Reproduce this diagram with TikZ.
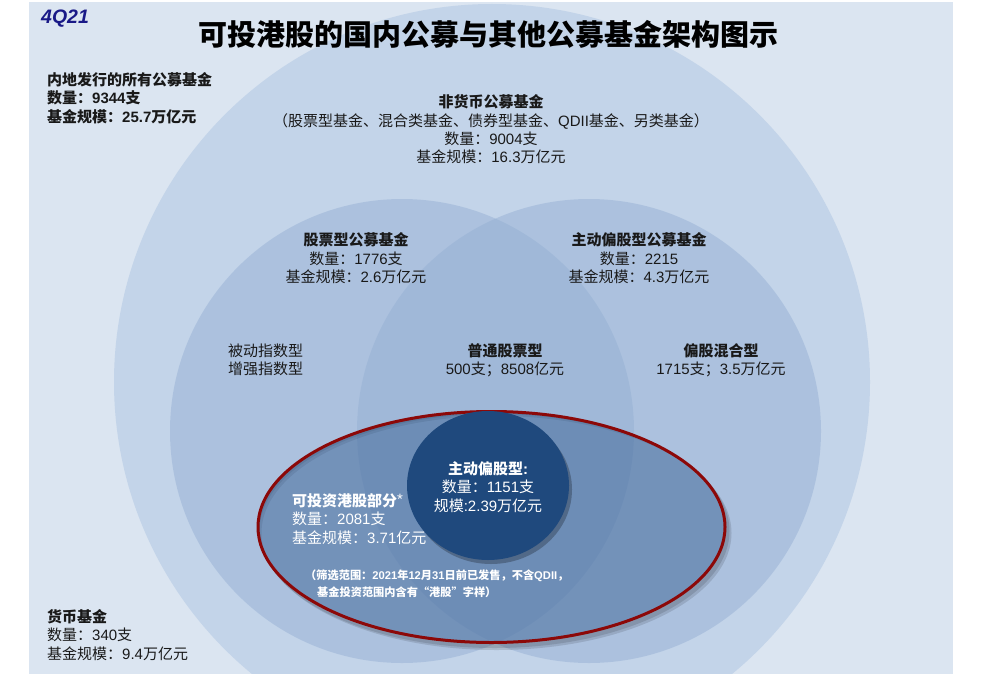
\documentclass[tikz,border=0pt]{standalone}
\usepackage{fontspec}
\setmainfont{Noto Sans CJK SC}
\newfontfamily\lat{Liberation Sans}
\usetikzlibrary{shapes.geometric}
\newcommand{\nm}[1]{{\lat #1}}
\definecolor{bgc}{HTML}{DBE5F1}
\definecolor{cone}{HTML}{C3D4E9}
\definecolor{ctwo}{RGB}{150,176,212}
\definecolor{cell}{RGB}{60,100,150}
\definecolor{cdark}{HTML}{1F497D}
\definecolor{cred}{RGB}{140,8,8}
\definecolor{navyq}{RGB}{25,25,135}
\definecolor{txt}{RGB}{25,25,25}
\tikzset{
  lbl/.style={inner sep=0pt, text=txt, font=\fontsize{15}{18.4}\selectfont},
  wlbl/.style={inner sep=0pt, text=white, font=\fontsize{15}{18.6}\selectfont},
  disc/.style={circle, inner sep=0pt, minimum size=#1},
}
\begin{document}
\begin{tikzpicture}[x=1pt,y=-1pt]
\useasboundingbox (0,0) rectangle (990,674);
\fill[bgc] (29,2) rectangle (953,674);
\begin{scope}
\clip (29,2) rectangle (953,674);
\node[disc=756pt, fill=cone] (all) at (492,382) {};
\node[disc=464pt, fill=ctwo, fill opacity=0.5] (stock) at (402,431) {};
\node[disc=464pt, fill=ctwo, fill opacity=0.5] (active) at (589,431) {};
% shadow ring of the ellipse
\fill[black, opacity=0.12, even odd rule] (494.5,531) ellipse[x radius=235, y radius=117] (491.5,527) ellipse[x radius=233.5, y radius=115.5];
\fill[black, opacity=0.12, even odd rule] (496.5,533) ellipse[x radius=235, y radius=117] (491.5,527) ellipse[x radius=233.5, y radius=115.5];
\node[ellipse, inner sep=0pt, minimum width=467pt, minimum height=231pt, fill=cell, fill opacity=0.5, draw=cred, line width=3pt, draw opacity=1] (hk) at (491.5,527) {};
% shadow of the dark disc
\fill[black, opacity=0.25] (491,489.5) ellipse[x radius=81, y radius=74.5];
\node[ellipse, inner sep=0pt, minimum width=162pt, minimum height=149pt, fill=cdark] (core) at (488,485.5) {};
\end{scope}

\node[inner sep=0pt, anchor=west, text=navyq, font=\lat\bfseries\itshape\fontsize{19.5}{19.5}\selectfont] (q) at (41,19) {4Q21};
\node[inner sep=0pt, text=black, font=\bfseries\fontsize{29}{29}\selectfont] (title) at (488,34) {可投港股的国内公募与其他公募基金架构图示};

\node[lbl, anchor=west, align=left, font=\bfseries\fontsize{15}{18.5}\selectfont] (allt) at (47,98)
  {内地发行的所有公募基金\\数量：\nm{9344}支\\基金规模：\nm{25.7}万亿元};

\node[lbl, align=center] (nonmt) at (491,129.5)
  {\textbf{非货币公募基金}\\（股票型基金、混合类基金、债券型基金、\nm{QDII}基金、另类基金）\\数量：\nm{9004}支\\基金规模：\nm{16.3}万亿元};

\node[lbl, align=center] (stockt) at (356,258.5)
  {\textbf{股票型公募基金}\\数量：\nm{1776}支\\基金规模：\nm{2.6}万亿元};
\node[lbl, align=center] (activet) at (639,258.5)
  {\textbf{主动偏股型公募基金}\\数量：\nm{2215}\\基金规模：\nm{4.3}万亿元};

\node[lbl, anchor=west, align=left] (indext) at (228,360)
  {被动指数型\\增强指数型};
\node[lbl, align=center] (commont) at (505,360)
  {\textbf{普通股票型}\\\nm{500}支；\nm{8508}亿元};
\node[lbl, align=center] (mixt) at (721,360)
  {\textbf{偏股混合型}\\\nm{1715}支；\nm{3.5}万亿元};

\node[wlbl, align=center] (coret) at (488,487)
  {\textbf{主动偏股型\nm{:}}\\数量：\nm{1151}支\\规模\nm{:2.39}万亿元};

\node[wlbl, anchor=west, align=left] (hkt) at (292,519)
  {\textbf{可投资港股部分}\raisebox{2pt}{\nm{\fontsize{15}{15}\selectfont *}}\\数量：\nm{2081}支\\基金规模：\nm{3.71}亿元};

\node[inner sep=0pt, text=white, anchor=west, align=left, font=\bfseries\fontsize{11.2}{17}\selectfont] (note) at (305,583.5)
  {（筛选范围：\nm{2021}年\nm{12}月\nm{31}日前已发售，不含\nm{QDII}，\\\hspace*{12pt}基金投资范围内含有“港股”字样）};

\node[lbl, anchor=west, align=left] (moneyt) at (47,635)
  {\textbf{货币基金}\\数量：\nm{340}支\\基金规模：\nm{9.4}万亿元};
\end{tikzpicture}
\end{document}
